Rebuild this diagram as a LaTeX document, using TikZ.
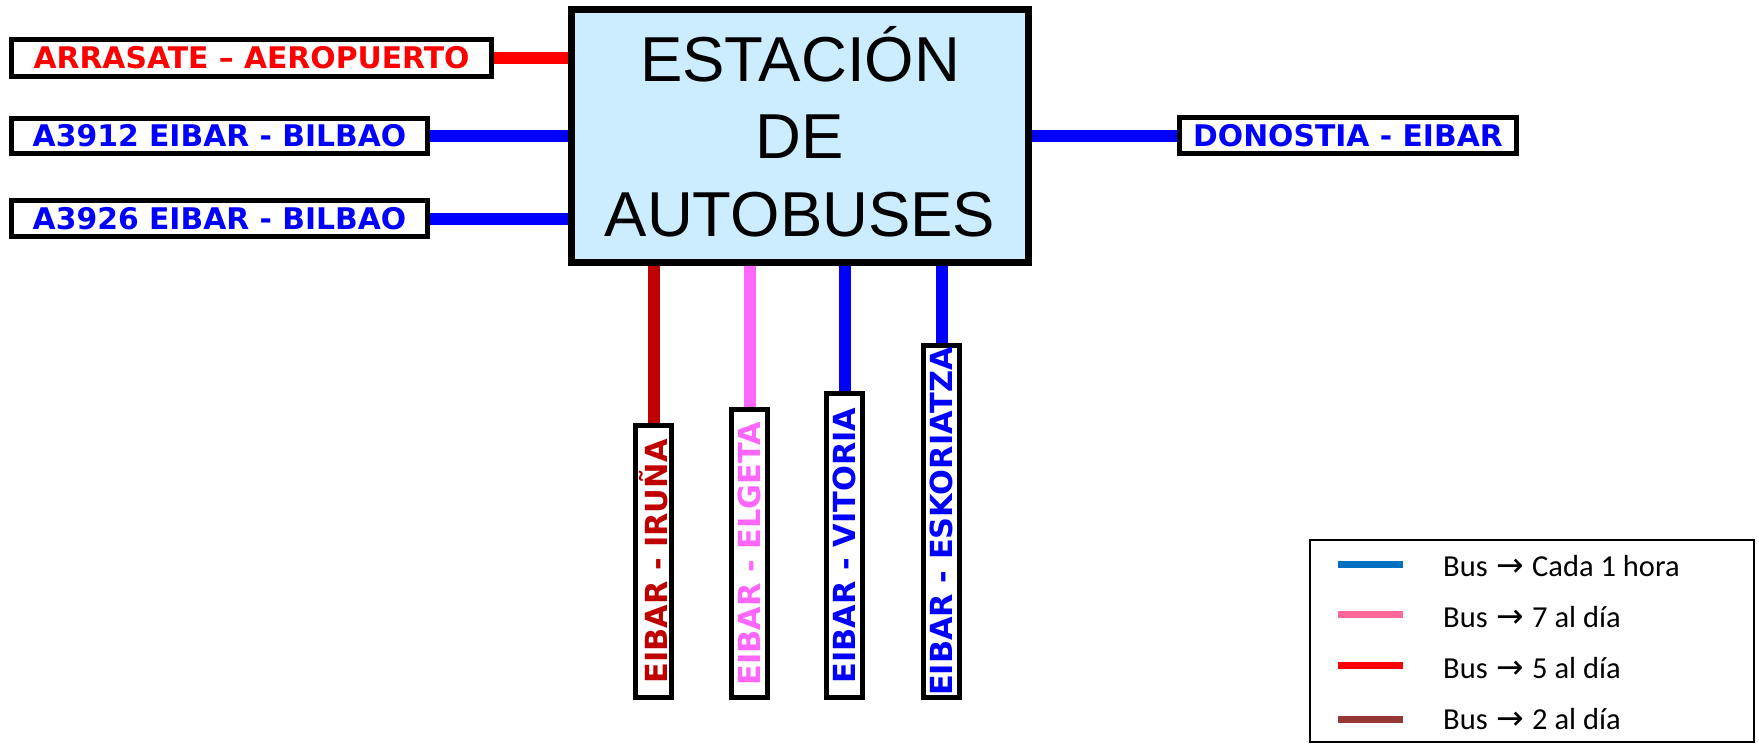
\documentclass[tikz,border=0pt]{standalone}
\usepackage{fontspec}
\setmainfont{Liberation Sans}
\newfontfamily\routefont{DejaVu Sans}
\newfontfamily\legendfont{Carlito}
\newfontfamily\arrowfont{DejaVu Sans}
\usetikzlibrary{backgrounds}
\definecolor{routeRed}{HTML}{FF0000}
\definecolor{routeBlue}{HTML}{0000FF}
\definecolor{routeDarkRed}{HTML}{C00000}
\definecolor{routePink}{HTML}{FF66FF}
\definecolor{stationBlue}{HTML}{CCECFF}
\definecolor{legBlue}{HTML}{0070C0}
\definecolor{legPink}{HTML}{FF6699}
\definecolor{legRed}{HTML}{FF0000}
\definecolor{legBrown}{HTML}{953735}
\tikzset{
  routebox/.style={draw=black, line width=5pt, fill=white, inner sep=0pt, align=center, font=\routefont\bfseries\fontsize{29.8}{30}\selectfont},
  downbox/.style={routebox, rotate=90, minimum height=36pt, font=\routefont\bfseries\fontsize{30.4}{30}\selectfont},
  station/.style={draw=black, line width=7pt, fill=stationBlue, align=center, inner sep=0pt, text depth=10pt, font=\fontsize{63.5}{77.5}\selectfont},
  route/.style={line width=12pt},
  legline/.style={line width=7pt},
  legtext/.style={anchor=base west, inner sep=0pt, font=\legendfont\fontsize{30.5}{30.5}\selectfont}
}
\newcommand{\busarrow}{\hspace{2pt}{\arrowfont\fontsize{33}{33}\selectfont →}\hspace{1pt}}

\begin{document}
\begin{tikzpicture}[x=1pt, y=-1pt]
\useasboundingbox (0,0) rectangle (1759,744);
% ---- station ----
\node[station, minimum width=457pt, minimum height=253pt] (estacion) at (800,136) {ESTACIÓN\\DE\\AUTOBUSES};
% ---- routes, left and right ----
\node[routebox, text=routeRed, minimum width=480pt, minimum height=37pt] (arrasate) at (251.5,58) {ARRASATE – AEROPUERTO};
\node[routebox, text=routeBlue, minimum width=416pt, minimum height=35pt] (bilbaoA) at (219.5,136) {A3912 EIBAR - BILBAO};
\node[routebox, text=routeBlue, minimum width=416pt, minimum height=36pt] (bilbaoB) at (219.5,218.5) {A3926 EIBAR - BILBAO};
\node[routebox, text=routeBlue, minimum width=337pt, minimum height=36pt] (donostia) at (1348,135.5) {DONOSTIA - EIBAR};
% ---- routes, below ----
\node[downbox, text=routeDarkRed, minimum width=272pt] (iruna) at (653.5,561.5) {EIBAR - IRUÑA};
\node[downbox, text=routePink, minimum width=288pt] (elgeta) at (749.5,553.5) {EIBAR - ELGETA};
\node[downbox, text=routeBlue, minimum width=304pt] (vitoria) at (844.5,545.5) {EIBAR - VITORIA};
\node[downbox, text=routeBlue, minimum width=352pt] (eskoriatza) at (941.5,521.5) {EIBAR - ESKORIATZA};
% ---- lines to the station ----
\begin{scope}[on background layer]
\draw[route, routeRed] (arrasate.east) -- (arrasate.east -| estacion.west);
\draw[route, routeBlue] (bilbaoA.east) -- (bilbaoA.east -| estacion.west);
\draw[route, routeBlue] (bilbaoB.east) -- (bilbaoB.east -| estacion.west);
\draw[route, routeBlue] (donostia.west) -- (donostia.west -| estacion.east);
\draw[route, routeDarkRed] (iruna.east) -- (iruna.east |- estacion.south);
\draw[route, routePink] (elgeta.east) -- (elgeta.east |- estacion.south);
\draw[route, routeBlue] (vitoria.east) -- (vitoria.east |- estacion.south);
\draw[route, routeBlue] (eskoriatza.east) -- (eskoriatza.east |- estacion.south);
\end{scope}
% ---- legend ----
\node[draw=black, line width=2pt, inner sep=0pt, minimum width=444pt, minimum height=202pt] (legend) at (1532,641) {};
\draw[legline, legBlue] (1338,564) -- (1403,564);
\draw[legline, legPink] (1338,614) -- (1403,614);
\draw[legline, legRed] (1338,665) -- (1403,665);
\draw[legline, legBrown] (1338,719) -- (1403,719);
\node[legtext] (legHora) at (1443,576) {Bus \busarrow{} Cada 1 hora};
\node[legtext] (legSiete) at (1443,627) {Bus \busarrow{} 7 al día};
\node[legtext] (legCinco) at (1443,678) {Bus \busarrow{} 5 al día};
\node[legtext] (legDos) at (1443,729) {Bus \busarrow{} 2 al día};
\end{tikzpicture}
\end{document}
